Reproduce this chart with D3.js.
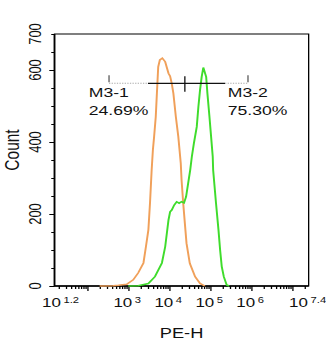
<!DOCTYPE html>
<html>
<head>
<meta charset="utf-8">
<script src="https://cdn.jsdelivr.net/npm/d3@7"></script>
<style>
  body { margin: 0; background: #fff; }
  text { font-family: "Liberation Sans", Arial, sans-serif; fill: #111; }
</style>
</head>
<body>
<svg id="chart"></svg>
<script>
// decade exponents that get a label, and the count labels
var xTickExps = [1.2, 3, 4, 5, 6, 7.4];
var yTickLabels = [0, 200, 400, 600, 700];

// histograms: [log10(PE-H), count]
var controlHist = [
  [2.30, 0], [2.63, 1], [2.76, 2], [2.96, 5], [3.12, 17], [3.24, 36], [3.37, 64],
  [3.43, 109], [3.49, 156], [3.53, 231], [3.57, 322], [3.60, 378], [3.63, 415],
  [3.67, 470], [3.69, 517], [3.71, 563], [3.73, 609], [3.77, 628], [3.83, 633],
  [3.90, 623], [3.98, 591], [4.02, 583], [4.06, 563], [4.10, 535], [4.16, 470],
  [4.22, 415], [4.28, 341], [4.30, 294], [4.34, 230], [4.38, 174], [4.42, 119],
  [4.50, 63], [4.63, 26], [4.75, 7], [4.87, 0]
];
var stainedHist = [
  [3.00, 0], [3.24, 1], [3.49, 7], [3.65, 26], [3.82, 64], [3.90, 109], [3.98, 183],
  [4.02, 206], [4.06, 211], [4.12, 225], [4.18, 234], [4.24, 230], [4.30, 234],
  [4.36, 231], [4.41, 248], [4.46, 285], [4.51, 322], [4.55, 359], [4.60, 396],
  [4.67, 442], [4.71, 498], [4.75, 544], [4.79, 581], [4.83, 607], [4.90, 581],
  [4.93, 535], [4.98, 470], [5.02, 415], [5.06, 359], [5.07, 322], [5.14, 230],
  [5.20, 156], [5.24, 100], [5.28, 54], [5.33, 26], [5.40, 3], [5.46, 0]
];

// gate markers
var gateNames = ["M3-1", "M3-2"];
var gatePcts = ["24.69%", "75.30%"];
var gateEdges = [2.53, 4.38, 5.92];
var gateSolid = [3.48, 5.36];
var gateLevel = 563;

var W = 250, H = 350,
    margin = {top: 34, right: 13.3, bottom: 64, left: 41.8},
    width = W - margin.left - margin.right,
    height = H - margin.top - margin.bottom;

var svg = d3.select("#chart")
    .attr("width", 326)
    .attr("height", 350)
    .attr("viewBox", "0 0 " + W + " " + H)
    .attr("preserveAspectRatio", "none");

var g = svg.append("g")
    .attr("transform", "translate(" + margin.left + "," + margin.top + ")");

var x = d3.scaleLog()
    .domain([Math.pow(10, 1.2), Math.pow(10, 7.4)])
    .range([0, width]);

var y = d3.scaleLinear()
    .domain([0, 700])
    .range([height, 0]);

// minor ticks: 2..9 in each decade
var minorX = [];
for (var p = 1; p <= 7; p++) {
  for (var m = 2; m <= 9; m++) {
    var v = m * Math.pow(10, p);
    if (v > x.domain()[0] && v < x.domain()[1]) minorX.push(v);
  }
}
var majorX = [1e2, 1e3, 1e4, 1e5, 1e6, 1e7];

g.append("g")
    .attr("class", "axis")
    .attr("transform", "translate(0," + height + ")")
    .call(d3.axisBottom(x).tickValues(minorX).tickSize(3).tickFormat(""));

g.append("g")
    .attr("class", "axis")
    .attr("transform", "translate(0," + height + ")")
    .call(d3.axisBottom(x).tickValues(majorX).tickSize(5).tickFormat(""));

g.append("g")
    .attr("class", "axis")
    .call(d3.axisLeft(y).tickValues(d3.range(0, 701, 50)).tickSize(2.5).tickFormat(""));

g.append("g")
    .attr("class", "axis")
    .call(d3.axisLeft(y).tickValues([0, 200, 400, 600]).tickSize(4).tickFormat(""));

g.selectAll(".axis path").remove();
g.selectAll(".axis line").attr("stroke", "#000").attr("stroke-width", 1);

// frame
g.append("rect")
    .attr("width", width)
    .attr("height", height)
    .attr("fill", "none")
    .attr("stroke", "#000")
    .attr("stroke-width", 1);
g.append("line").attr("x1", 0).attr("x2", 0).attr("y1", 0).attr("y2", height)
    .attr("stroke", "#000").attr("stroke-width", 1.3);
g.append("line").attr("x1", 0).attr("x2", width).attr("y1", height).attr("y2", height)
    .attr("stroke", "#000").attr("stroke-width", 1.3);

// x tick labels, "10" with exponent, centred under the tick
var xl = g.selectAll(".xlab")
    .data(xTickExps)
  .enter().append("text")
    .attr("class", "xlab")
    .attr("text-anchor", "middle")
    .attr("x", function(d, i) { return x(Math.pow(10, d)) + (i === 0 ? 4.6 : -0.8); })
    .attr("y", height + 21)
    .style("font-size", "13px");
xl.append("tspan").text("10");
xl.append("tspan")
    .attr("dx", 2)
    .attr("dy", -3.5)
    .style("font-size", "8.6px")
    .text(function(d) { return d; });

// y tick labels, rotated
g.selectAll(".ylab")
    .data(yTickLabels)
  .enter().append("text")
    .attr("class", "ylab")
    .attr("text-anchor", "middle")
    .attr("transform", function(d) { return "translate(-10.5," + y(d) + ")rotate(-90)"; })
    .style("font-size", "13px")
    .text(function(d) { return d; });

g.append("text")
    .attr("text-anchor", "middle")
    .attr("transform", "translate(-27.3," + (height / 2 - 10) + ")rotate(-90)")
    .style("font-size", "15.5px")
    .text("Count");

g.append("text")
    .attr("text-anchor", "middle")
    .attr("x", width / 2)
    .attr("y", height + 52)
    .style("font-size", "14px")
    .text("PE-H");

// histograms
var line = d3.line()
    .x(function(d) { return x(Math.pow(10, d[0])); })
    .y(function(d) { return y(d[1]); });

g.append("path")
    .datum(controlHist)
    .attr("d", line)
    .attr("fill", "none")
    .attr("stroke", "#f0a05a")
    .attr("stroke-width", 1.5);

g.append("path")
    .datum(stainedHist)
    .attr("d", line)
    .attr("fill", "none")
    .attr("stroke", "#3fdc2c")
    .attr("stroke-width", 1.5);

// gate markers
var gy = y(gateLevel);
var ex = function(e) { return x(Math.pow(10, e)); };

[[gateEdges[0], gateSolid[0]], [gateSolid[1], gateEdges[2]]].forEach(function(s) {
  g.append("line")
      .attr("x1", ex(s[0])).attr("x2", ex(s[1]))
      .attr("y1", gy).attr("y2", gy)
      .attr("stroke", "#aaa")
      .attr("stroke-width", 1)
      .attr("stroke-dasharray", "1,1");
});
g.append("line")
    .attr("x1", ex(gateSolid[0])).attr("x2", ex(gateSolid[1]))
    .attr("y1", gy).attr("y2", gy)
    .attr("stroke", "#111")
    .attr("stroke-width", 1.3);

[gateEdges[0], gateEdges[2]].forEach(function(e) {
  g.append("line")
      .attr("x1", ex(e)).attr("x2", ex(e))
      .attr("y1", gy - 8).attr("y2", gy - 1)
      .attr("stroke", "#333")
      .attr("stroke-width", 0.8);
});
g.append("line")
    .attr("x1", ex(gateEdges[1])).attr("x2", ex(gateEdges[1]))
    .attr("y1", gy - 7).attr("y2", gy + 8.5)
    .attr("stroke", "#111")
    .attr("stroke-width", 1);

[gateEdges[0], gateEdges[2]].forEach(function(e, i) {
  var lx = ex(e) - 15.5;
  g.append("text")
      .attr("x", lx).attr("y", gy + 14)
      .style("font-size", "13.5px")
      .text(gateNames[i]);
  g.append("text")
      .attr("x", lx).attr("y", gy + 31.7)
      .style("font-size", "13.5px")
      .text(gatePcts[i]);
});
</script>
</body>
</html>
